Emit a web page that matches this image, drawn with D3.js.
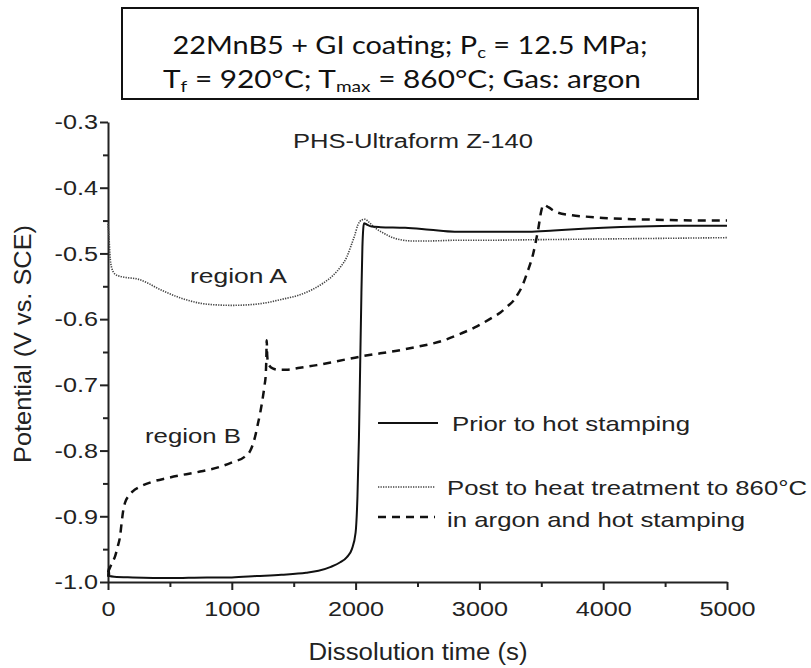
<!DOCTYPE html>
<html>
<head>
<meta charset="utf-8">
<script src="https://cdn.jsdelivr.net/npm/d3@7"></script>
<style>
  html, body { margin: 0; padding: 0; background: #fff; }
  svg { display: block; }
</style>
</head>
<body>
<svg id="chart" width="811" height="668"></svg>
<script>
// ---------------- DATA ----------------
const xTicks = [0, 1000, 2000, 3000, 4000, 5000];
const xTickLabels = ["0", "1000", "2000", "3000", "4000", "5000"];
const xMinor = [500, 1500, 2500, 3500, 4500];
const yTicks = [-1.0, -0.9, -0.8, -0.7, -0.6, -0.5, -0.4, -0.3];
const yTickLabels = ["-1.0", "-0.9", "-0.8", "-0.7", "-0.6", "-0.5", "-0.4", "-0.3"];
const yMinor = [-0.95, -0.85, -0.75, -0.65, -0.55, -0.45, -0.35];

// Prior to hot stamping (solid)
const priorT = [0, 5, 12, 50, 200, 500, 800, 1000, 1200, 1400, 1600, 1700, 1800, 1876, 1930, 1970, 2000, 2015, 2027, 2037, 2047, 2055, 2062, 2068, 2090, 2130, 2200, 2400, 2600, 2800, 3000, 3200, 3400, 3600, 3800, 4000, 4300, 4600, 5000];
const priorV = [-0.992, -0.978, -0.991, -0.992, -0.993, -0.994, -0.993, -0.993, -0.991, -0.989, -0.986, -0.983, -0.977, -0.970, -0.962, -0.950, -0.925, -0.87, -0.78, -0.67, -0.56, -0.49, -0.462, -0.454, -0.456, -0.459, -0.460, -0.461, -0.464, -0.467, -0.467, -0.467, -0.467, -0.465, -0.463, -0.461, -0.459, -0.458, -0.458];

// Post to heat treatment to 860°C (dotted)
const postT = [0, 8, 15, 30, 60, 100, 160, 240, 320, 400, 480, 560, 640, 750, 850, 1000, 1150, 1280, 1400, 1550, 1650, 1740, 1820, 1880, 1930, 1960, 1990, 2020, 2050, 2078, 2100, 2150, 2225, 2300, 2360, 2450, 2600, 2800, 3000, 3500, 4000, 4500, 5000];
const postV = [-0.455, -0.475, -0.500, -0.522, -0.532, -0.535, -0.537, -0.539, -0.545, -0.553, -0.560, -0.566, -0.571, -0.576, -0.578, -0.579, -0.578, -0.575, -0.570, -0.563, -0.555, -0.545, -0.533, -0.520, -0.505, -0.490, -0.474, -0.456, -0.449, -0.448, -0.451, -0.460, -0.469, -0.476, -0.479, -0.481, -0.481, -0.480, -0.480, -0.479, -0.478, -0.477, -0.476];

// in argon and hot stamping (dashed)
const argonT = [0, 30, 57, 80, 97, 110, 124, 140, 163, 200, 259, 350, 474, 600, 744, 900, 1013, 1100, 1150, 1188, 1210, 1229, 1250, 1265, 1274, 1279, 1282, 1286, 1295, 1330, 1376, 1442, 1550, 1687, 1850, 2037, 2200, 2334, 2500, 2700, 2850, 2980, 3100, 3170, 3230, 3275, 3310, 3345, 3385, 3435, 3476, 3500, 3517, 3560, 3620, 3750, 3862, 4000, 4265, 4500, 4885, 5000];
const argonV = [-0.985, -0.972, -0.961, -0.945, -0.931, -0.910, -0.890, -0.878, -0.870, -0.862, -0.855, -0.848, -0.842, -0.837, -0.832, -0.825, -0.817, -0.810, -0.800, -0.779, -0.760, -0.743, -0.720, -0.700, -0.685, -0.660, -0.632, -0.655, -0.668, -0.675, -0.677, -0.677, -0.674, -0.670, -0.664, -0.657, -0.652, -0.648, -0.642, -0.633, -0.622, -0.611, -0.598, -0.590, -0.580, -0.572, -0.562, -0.550, -0.530, -0.500, -0.462, -0.435, -0.426, -0.430, -0.437, -0.442, -0.444, -0.446, -0.448, -0.449, -0.450, -0.450];

const seriesNames = ["Prior to hot stamping", "Post to heat treatment to 860°C", "in argon and hot stamping"];

// ---------------- DRAW ----------------
const svg = d3.select("#chart");
const FONT = "'Liberation Sans', Arial, sans-serif";
const x = d3.scaleLinear().domain([0, 5000]).range([108, 727]);
const y = d3.scaleLinear().domain([-1.0, -0.3]).range([582, 122]);
const SX = 1.2; // horizontal stretch of text in the reference

// Title box
svg.append("rect").attr("x", 122).attr("y", 8).attr("width", 576).attr("height", 91)
  .attr("fill", "#fff").attr("stroke", "#111").attr("stroke-width", 2);

const tFont = "Lato, 'Open Sans', sans-serif";
const t1 = svg.append("text").attr("x", 410).attr("y", 54).attr("text-anchor", "middle")
  .attr("font-family", tFont).attr("font-size", 25).attr("fill", "#111")
  .attr("textLength", 475).attr("lengthAdjust", "spacingAndGlyphs");
t1.append("tspan").text("22MnB5 + GI coating; P");
t1.append("tspan").attr("font-size", 16).attr("dy", 4).text("c");
t1.append("tspan").attr("dy", -4).text(" = 12.5 MPa;");

const t2 = svg.append("text").attr("x", 402).attr("y", 88).attr("text-anchor", "middle")
  .attr("font-family", tFont).attr("font-size", 25).attr("fill", "#111")
  .attr("textLength", 478).attr("lengthAdjust", "spacingAndGlyphs");
t2.append("tspan").text("T");
t2.append("tspan").attr("font-size", 16).attr("dy", 4).text("f");
t2.append("tspan").attr("dy", -4).text(" = 920°C; T");
t2.append("tspan").attr("font-size", 16).attr("dy", 4).text("max");
t2.append("tspan").attr("dy", -4).text(" = 860°C; Gas: argon");

// Axes
const gx = svg.append("g").attr("transform", `translate(0,${y(-1.0)})`)
  .call(d3.axisBottom(x).tickValues(xTicks).tickSize(8).tickSizeOuter(0)
    .tickFormat((d, i) => xTickLabels[i]));
svg.append("g").attr("transform", `translate(0,${y(-1.0)})`)
  .call(d3.axisBottom(x).tickValues(xMinor).tickSize(5).tickSizeOuter(0).tickFormat(""))
  .call(g => g.select(".domain").remove());

const gy = svg.append("g").attr("transform", `translate(${x(0)},0)`)
  .call(d3.axisLeft(y).tickValues(yTicks).tickSize(8).tickSizeOuter(0)
    .tickFormat((d, i) => yTickLabels[i]));
svg.append("g").attr("transform", `translate(${x(0)},0)`)
  .call(d3.axisLeft(y).tickValues(yMinor).tickSize(5).tickSizeOuter(0).tickFormat(""))
  .call(g => g.select(".domain").remove());

svg.selectAll(".domain").attr("stroke", "#222").attr("stroke-width", 2);
svg.selectAll(".tick line").attr("stroke", "#222").attr("stroke-width", 2);

gx.selectAll(".tick text").attr("font-family", FONT).attr("font-size", 21).attr("fill", "#222")
  .attr("y", 19).attr("transform", `scale(${SX},1)`);
gy.selectAll(".tick text").attr("font-family", FONT).attr("font-size", 21).attr("fill", "#222")
  .attr("x", -10 / SX).attr("transform", `scale(${SX},1)`);

// Axis titles
svg.append("text").attr("x", 418).attr("y", 660).attr("text-anchor", "middle")
  .attr("font-family", FONT).attr("font-size", 23).attr("fill", "#222")
  .attr("textLength", 219).attr("lengthAdjust", "spacingAndGlyphs")
  .text("Dissolution time (s)");
svg.append("text").attr("transform", "translate(31,344) rotate(-90)").attr("text-anchor", "middle")
  .attr("font-family", FONT).attr("font-size", 24).attr("fill", "#222")
  .attr("textLength", 238).attr("lengthAdjust", "spacingAndGlyphs")
  .text("Potential (V vs. SCE)");

// Subtitle and annotations
svg.append("text").attr("x", 413).attr("y", 148).attr("text-anchor", "middle")
  .attr("font-family", FONT).attr("font-size", 20).attr("fill", "#222")
  .attr("textLength", 240).attr("lengthAdjust", "spacingAndGlyphs")
  .text("PHS-Ultraform Z-140");
svg.append("text").attr("x", 190).attr("y", 283)
  .attr("font-family", FONT).attr("font-size", 21).attr("fill", "#222")
  .attr("textLength", 97).attr("lengthAdjust", "spacingAndGlyphs")
  .text("region A");
svg.append("text").attr("x", 145).attr("y", 443)
  .attr("font-family", FONT).attr("font-size", 21).attr("fill", "#222")
  .attr("textLength", 96).attr("lengthAdjust", "spacingAndGlyphs")
  .text("region B");

// Lines
const line = d3.line().x(d => x(d[0])).y(d => y(d[1])).curve(d3.curveMonotoneX);
const zip = (a, b) => a.map((t, i) => [t, b[i]]);

const styles = [
  { stroke: "#111", width: 2, dash: null },
  { stroke: "#444", width: 1.6, dash: "1.3,1.2" },
  { stroke: "#111", width: 2.5, dash: "8,6" }
];
const data = [zip(postT, postV), zip(argonT, argonV), zip(priorT, priorV)];
const dataStyles = [styles[1], styles[2], styles[0]];
data.forEach((d, i) => {
  svg.append("path").datum(d).attr("d", line).attr("fill", "none")
    .attr("stroke", dataStyles[i].stroke).attr("stroke-width", dataStyles[i].width)
    .attr("stroke-dasharray", dataStyles[i].dash);
});

// Legend
const legendY = [423, 487, 517];
const legendTextX = [452, 447, 447];
const legendTextY = [431, 495, 527];
const legendLen = [238, 360, 298];
seriesNames.forEach((name, i) => {
  svg.append("line").attr("x1", 378).attr("x2", i === 0 ? 438 : 435)
    .attr("y1", legendY[i]).attr("y2", legendY[i])
    .attr("stroke", styles[i].stroke).attr("stroke-width", styles[i].width)
    .attr("stroke-dasharray", styles[i].dash);
  svg.append("text").attr("x", legendTextX[i]).attr("y", legendTextY[i])
    .attr("font-family", FONT).attr("font-size", 21).attr("fill", "#222")
    .attr("textLength", legendLen[i]).attr("lengthAdjust", "spacingAndGlyphs")
    .text(name);
});
</script>
</body>
</html>
